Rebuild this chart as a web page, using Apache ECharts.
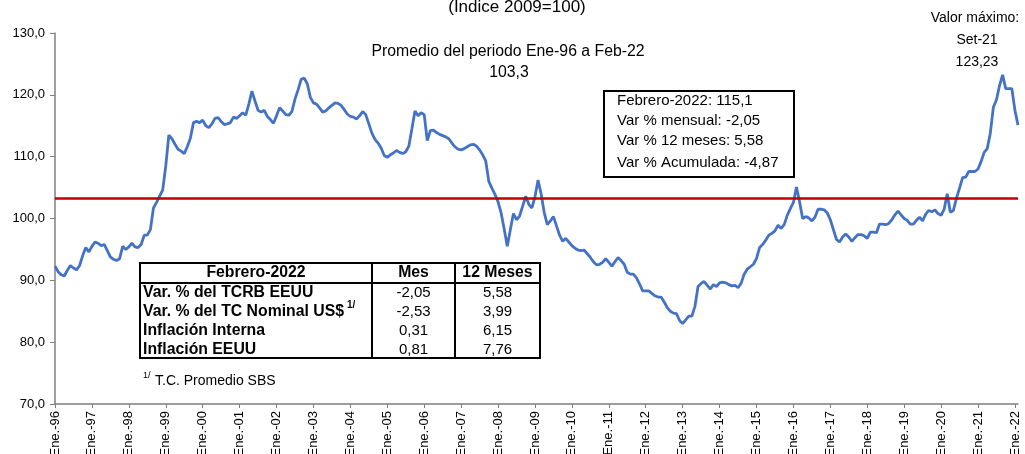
<!DOCTYPE html>
<html>
<head>
<meta charset="utf-8">
<script src="https://cdn.jsdelivr.net/npm/echarts@6/dist/echarts.min.js"></script>
<style>
  html, body { margin: 0; padding: 0; background: #fff; }
  #chart { width: 1025px; height: 454px; }
</style>
</head>
<body>
<div id="chart"></div>
<script>
// Indice del TCRB EEUU, mensual Ene-96 a Feb-22 (2009=100)
var startYear = 1996
var monthNames = ['Ene', 'Feb', 'Mar', 'Abr', 'May', 'Jun', 'Jul', 'Ago', 'Set', 'Oct', 'Nov', 'Dic']

var tcrb = [
  92.3, 91.4, 90.9, 90.7, 91.6, 92.4, 92.0, 91.7, 92.4, 94.0, 95.3, 94.6,       // 1996
  95.5, 96.2, 96.0, 95.6, 95.8, 94.8, 93.8, 93.4, 93.2, 93.5, 95.5, 95.0,       // 1997
  95.4, 96.0, 95.4, 95.3, 95.8, 97.3, 97.3, 98.2, 101.7, 102.6, 103.6, 104.6,   // 1998
  108.5, 113.5, 112.9, 112.0, 111.2, 110.9, 110.5, 111.6, 113.0, 115.5, 115.7, 115.5, // 1999
  115.9, 115.0, 114.7, 115.3, 116.2, 116.3, 115.7, 115.2, 115.3, 115.5, 116.4, 116.2, // 2000
  116.6, 117.1, 116.7, 118.5, 120.6, 119.0, 117.5, 117.2, 117.5, 116.5, 116.0, 115.4, // 2001
  116.6, 117.9, 117.4, 116.8, 116.7, 117.3, 119.3, 120.8, 122.5, 122.7, 121.8, 119.6, // 2002
  118.7, 118.5, 117.9, 117.2, 117.4, 117.9, 118.3, 118.7, 118.6, 118.3, 117.6, 116.9, // 2003
  116.5, 116.4, 116.1, 116.6, 117.3, 116.8, 115.3, 113.8, 112.8, 112.2, 111.4, 110.2, // 2004
  109.9, 110.3, 110.6, 111.0, 110.7, 110.5, 110.8, 111.7, 114.5, 117.4, 116.6, 117.1, // 2005
  116.8, 112.6, 114.2, 114.3, 113.9, 113.6, 113.4, 113.2, 112.9, 112.2, 111.6, 111.2, // 2006
  111.1, 111.3, 111.6, 111.9, 112.0, 111.7, 111.1, 110.3, 109.3, 106.0, 104.9, 103.9, // 2007
  102.7, 100.9, 98.3, 95.5, 98.2, 100.8, 99.8, 100.4, 102.0, 103.6, 102.3, 101.7,     // 2008
  103.5, 106.2, 104.0, 101.0, 99.0, 99.6, 100.3, 98.8, 97.3, 96.3, 96.8, 96.2,        // 2009
  95.6, 95.2, 94.9, 94.8, 94.9, 94.3, 93.7, 93.0, 92.5, 92.6, 92.9, 93.5,             // 2010
  92.9, 92.3, 93.0, 93.7, 93.2, 92.6, 91.3, 91.0, 91.0, 90.4, 89.4, 88.3,             // 2011
  88.3, 88.3, 87.9, 87.5, 87.3, 87.3, 86.5, 85.6, 85.0, 84.7, 84.6, 83.5,             // 2012
  83.0, 83.6, 84.2, 84.2, 85.8, 89.0, 89.5, 89.8, 89.2, 88.6, 89.3, 89.0,             // 2013
  89.6, 89.7, 89.6, 89.3, 89.1, 89.2, 88.8, 89.5, 91.0, 91.8, 92.2, 92.6,             // 2014
  93.5, 95.3, 95.8, 96.5, 97.3, 97.6, 98.0, 98.9, 98.4, 99.0, 100.5, 101.6,           // 2015
  102.6, 105.1, 102.7, 100.0, 100.3, 100.1, 99.6, 100.2, 101.5, 101.5, 101.4, 100.9,  // 2016
  99.8, 98.2, 96.6, 96.2, 97.0, 97.5, 97.0, 96.3, 96.9, 97.4, 97.4, 97.2,             // 2017
  96.8, 97.8, 97.8, 97.7, 99.1, 99.1, 99.0, 99.2, 99.8, 100.6, 101.2, 100.6,          // 2018
  100.0, 99.7, 99.1, 99.1, 99.7, 100.2, 99.6, 100.7, 101.3, 101.1, 101.4, 100.8,      // 2019
  100.5, 101.5, 104.0, 101.0, 101.3, 103.3, 104.9, 106.6, 106.7, 107.6, 107.6, 107.6, // 2020
  108.0, 109.2, 110.7, 111.3, 113.8, 118.0, 119.2, 121.5, 123.23, 121.0, 121.0, 121.0, // 2021
  117.5, 115.1                                                                          // 2022
]

var promedio = 103.3
var yTicks = [70, 80, 90, 100, 110, 120, 130]

var boxLines = ['Febrero-2022: 115,1', 'Var % mensual: -2,05', 'Var % 12 meses: 5,58', 'Var % Acumulada: -4,87']
var maxLines = ['Valor máximo:', 'Set-21', '123,23']

var tableHeader = ['Febrero-2022', 'Mes', '12 Meses']
var tableLabels = ['Var. % del TCRB EEUU', 'Var. % del TC Nominal US$', 'Inflación Interna', 'Inflación EEUU']
var tableMes = ['-2,05', '-2,53', '0,31', '0,81']
var table12 = ['5,58', '3,99', '6,15', '7,76']

var months = tcrb.map(function (v, i) {
    var yr = (startYear + Math.floor(i / 12)) % 100
    return monthNames[i % 12] + '.-' + (yr < 10 ? '0' + yr : '' + yr)
})

var FONT = '"Liberation Sans", Arial, sans-serif'

function txt(x, y, s, size, align, weight) {
    return {
        type: 'text', z: 100,
        style: {
            x: x, y: y, text: s,
            font: (weight || 'normal') + ' ' + size + 'px ' + FONT,
            fill: '#000',
            textAlign: align || 'left',
            textVerticalAlign: 'middle'
        }
    }
}

var graphics = []
graphics.push(txt(517, 7, '(Indice 2009=100)', 17, 'center'))
graphics.push(txt(508, 52, 'Promedio del periodo Ene-96 a Feb-22', 15.8, 'center'))
graphics.push(txt(509, 73, '103,3', 15.8, 'center'))
maxLines.forEach(function (s, i) {
    graphics.push(txt(i === 0 ? 975 : 977, 18 + i * 22, s, 14, 'center'))
})

// recuadro con variaciones
graphics.push({
    type: 'rect', z: 90,
    shape: { x: 604, y: 91, width: 190, height: 86 },
    style: { fill: '#fff', stroke: '#000', lineWidth: 2 }
})
var boxY = [101, 121, 141, 163]
boxLines.forEach(function (s, i) {
    graphics.push(txt(617, boxY[i], s, 15))
})

// tabla
var tx0 = 140, tx1 = 372, tx2 = 455, tx3 = 540, ty0 = 263, ty1 = 283, ty2 = 358
graphics.push({
    type: 'rect', z: 90,
    shape: { x: tx0, y: ty0, width: tx3 - tx0, height: ty2 - ty0 },
    style: { fill: '#fff', stroke: '#000', lineWidth: 2 }
})
;[[tx1, ty0, tx1, ty2], [tx2, ty0, tx2, ty2], [tx0, ty1, tx3, ty1]].forEach(function (l) {
    graphics.push({
        type: 'line', z: 95,
        shape: { x1: l[0], y1: l[1], x2: l[2], y2: l[3] },
        style: { stroke: '#000', lineWidth: 2 }
    })
})
graphics.push(txt((tx0 + tx1) / 2, 273, tableHeader[0], 15.8, 'center', 'bold'))
graphics.push(txt((tx1 + tx2) / 2, 273, tableHeader[1], 15.8, 'center', 'bold'))
graphics.push(txt((tx2 + tx3) / 2, 273, tableHeader[2], 15.8, 'center', 'bold'))
var rowY = [293, 312, 331, 350]
tableLabels.forEach(function (s, i) {
    graphics.push(txt(143, rowY[i], s, 15.8, 'left', 'bold'))
    graphics.push(txt((tx1 + tx2) / 2, rowY[i], tableMes[i], 15, 'center'))
    graphics.push(txt((tx2 + tx3) / 2, rowY[i], table12[i], 15, 'center'))
})
graphics.push(txt(347, 305, '1/', 10, 'left', 'bold'))
graphics.push(txt(143, 376, '1/', 9))
graphics.push(txt(155, 381, 'T.C. Promedio SBS', 14))

var chart = echarts.init(document.getElementById('chart'))
chart.setOption({
    animation: false,
    backgroundColor: '#fff',
    grid: { left: 55, right: 7, top: 33, bottom: 50, containLabel: false, outerBoundsMode: 'none' },
    xAxis: {
        type: 'category',
        data: months,
        boundaryGap: false,
        axisLine: { lineStyle: { color: '#7f7f7f', width: 1.5 } },
        axisTick: {
            length: 4,
            interval: function (i) { return i % 12 === 0 },
            lineStyle: { color: '#7f7f7f' }
        },
        axisLabel: {
            rotate: 90,
            margin: 7,
            interval: function (i) { return i % 12 === 0 },
            fontFamily: FONT,
            fontSize: 13,
            color: '#000'
        },
        splitLine: { show: false }
    },
    yAxis: {
        type: 'value',
        min: yTicks[0],
        max: yTicks[yTicks.length - 1],
        interval: 10,
        axisLine: { show: true, lineStyle: { color: '#7f7f7f', width: 1.5 } },
        axisTick: { show: true, length: 5, lineStyle: { color: '#7f7f7f' } },
        axisLabel: {
            margin: 10,
            fontFamily: FONT,
            fontSize: 13,
            color: '#000',
            formatter: function (v) { return v.toFixed(1).replace('.', ',') }
        },
        splitLine: { show: false }
    },
    series: [{
        name: 'TCRB EEUU',
        type: 'line',
        data: tcrb,
        showSymbol: false,
        smooth: false,
        lineStyle: { color: '#4472C4', width: 2.8 },
        itemStyle: { color: '#4472C4' },
        markLine: {
            silent: true,
            symbol: 'none',
            label: { show: false },
            lineStyle: { color: '#C00000', width: 2.5, type: 'solid' },
            data: [{ yAxis: promedio }]
        },
        z: 3
    }],
    graphic: graphics
})
</script>
</body>
</html>
